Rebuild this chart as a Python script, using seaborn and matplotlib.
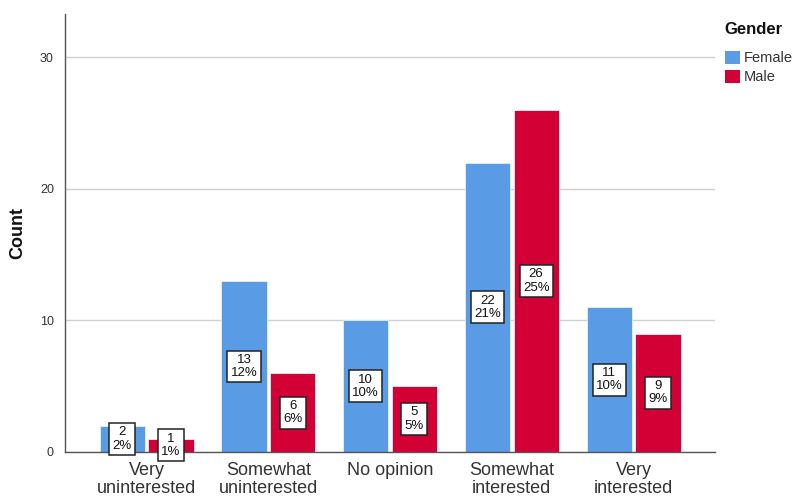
import matplotlib
matplotlib.use("Agg")
import matplotlib.pyplot as plt
import seaborn as sns
import pandas as pd
from matplotlib.patches import Patch

# data
categories = ["Very\nuninterested", "Somewhat\nuninterested", "No opinion",
              "Somewhat\ninterested", "Very\ninterested"]
female = [2, 13, 10, 22, 11]
male = [1, 6, 5, 26, 9]
female_pct = [2, 12, 10, 21, 10]
male_pct = [1, 6, 5, 25, 9]
colors = {"Female": "#5a9be6", "Male": "#d30035"}

df = pd.DataFrame({
    "category": categories * 2,
    "Gender": ["Female"] * 5 + ["Male"] * 5,
    "Count": female + male,
    "pct": female_pct + male_pct,
})

sns.set_style("white")
plt.rcParams["font.family"] = ["Liberation Sans", "DejaVu Sans"]

fig = plt.figure(figsize=(7.92, 5), dpi=100)
ax = fig.add_axes([0.082, 0.096, 0.821, 0.876])

sns.barplot(data=df, x="category", y="Count", hue="Gender",
            palette=colors, width=0.8, gap=0.07, saturation=1,
            edgecolor="#e8eef8", linewidth=0.6, legend=False, ax=ax)

# value boxes in the middle of each bar
for cont, g in zip(ax.containers, ["Female", "Male"]):
    sub = df[df["Gender"] == g]
    labels = [f"{c}\n{p}%" for c, p in zip(sub["Count"], sub["pct"])]
    for bar, lab in zip(cont, labels):
        ax.text(bar.get_x() + bar.get_width() / 2, bar.get_height() / 2, lab,
                ha="center", va="center", fontsize=9.5, linespacing=1.15,
                color="#111111",
                bbox=dict(boxstyle="square,pad=0.25", fc="white", ec="#222222", lw=1.1))

ax.set_ylim(0, 33.3)
ax.set_xlim(-0.67, 4.67)
ax.set_yticks([0, 10, 20, 30])
ax.yaxis.grid(True, color="#d0d0d0", lw=1)
ax.set_axisbelow(True)
ax.set_xlabel("")
ax.set_ylabel("Count", fontsize=13, fontweight="bold", color="#111111", labelpad=10)
ax.tick_params(axis="x", labelsize=13, length=0, pad=7, labelcolor="#333333")
ax.tick_params(axis="y", labelsize=9, length=0, pad=8, labelcolor="#333333")
for t in ax.get_xticklabels():
    t.set_linespacing(1.08)
for s in ["top", "right"]:
    ax.spines[s].set_visible(False)
for s in ["left", "bottom"]:
    ax.spines[s].set_color("#555555")
    ax.spines[s].set_linewidth(1)

# legend to the right, title drawn separately for spacing
fig.text(0.915, 0.94, "Gender", fontsize=12, fontweight="bold",
         color="#111111", va="center", ha="left")
handles = [Patch(facecolor=colors[g], edgecolor="none", label=g) for g in ["Female", "Male"]]
fig.legend(handles=handles, loc="upper left", bbox_to_anchor=(0.908, 0.91),
           frameon=False, fontsize=10.5, handlelength=1.0, handleheight=1.0,
           handletextpad=0.3, borderaxespad=0, labelspacing=0.3,
           labelcolor="#333333")

fig.savefig("out.png", dpi=100)
